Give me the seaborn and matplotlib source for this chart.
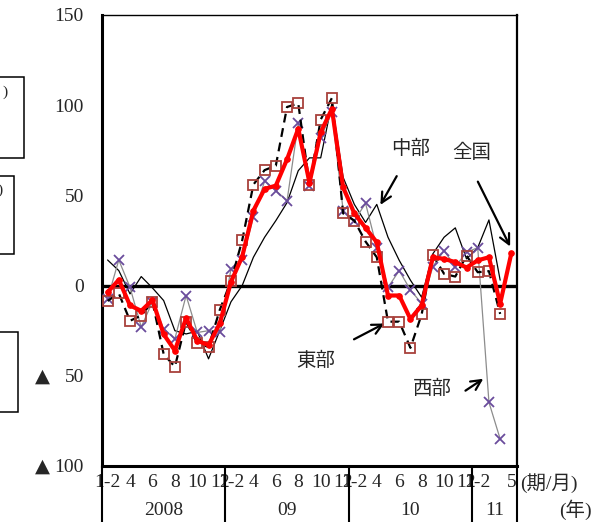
import numpy as np
import pandas as pd
import matplotlib
matplotlib.use('Agg')
import matplotlib.pyplot as plt
import matplotlib.transforms as mtransforms
from matplotlib.patches import Rectangle
import seaborn as sns

# periods: Jan-Feb combined, then monthly (2008/01 - 2011/05)
periods = (['1-2', '3', '4', '5', '6', '7', '8', '9', '10', '11', '12'] * 3
           + ['1-2', '3', '4', '5'])
shown = ['1-2', '4', '6', '8', '10', '12']
years = ['2008', '09', '10', '11']
year_len = [11, 11, 11, 4]

# 全国
national = [-3.7, 3.2, -11, -14, -8, -27, -36, -18, -30.5, -33, -21,
            2, 16, 41.6, 53.6, 55.4, 70, 87, 57, 85, 98,
            54.5, 40, 32, 24, -5.5, -5.5, -18.5, -11, 15.7, 14.8, 13,
            10, 14, 15.7, -10, 18]
# 東部
east = [-8.5, -4.3, -19.5, -16.6, -9, -38, -45, -20, -32, -34, -13.5,
        2.5, 25, 56, 64, 66.5, 99, 101, 56, 92, 104,
        40, 36, 24.4, 15.7, -20, -20, -34.5, -16, 17, 6.5, 5,
        16.6, 7.4, 8, -15.7]
# 中部
central = [14.2, 8.3, -4.6, 5, -1.3, -8.3, -25, -26.8, -25.3, -40.6, -25,
           -9, 0, 15.7, 26.8, 36, 46, 63.7, 70.8, 70.8, 101,
           60, 45, 35, 45, 26.8, 14, 3, -6.5, 17.6, 26.8, 32,
           14.8, 21, 36.4, 3]
# 西部
west = [-7.4, 14.2, -1, -23, -9, -24, -29.5, -5.5, -26, -25, -26,
        9.2, 14, 38, 58, 52.7, 47, 90, 55, 82, 96,
        41.6, 36, 45.6, 21, -1, 8.3, -2.4, -10, 10.5, 19.4, 10.5,
        18.5, 21, -64.7, -85]

pos = np.arange(len(periods))

sns.set_style('white')
plt.rcParams['font.family'] = ['Liberation Serif', 'Noto Sans CJK JP', 'DejaVu Sans']
plt.rcParams['font.size'] = 14

fig = plt.figure(figsize=(6.07, 5.22), dpi=100)
ax = fig.add_axes([0.168, 0.1073, 0.6837, 0.864])

df_c = pd.DataFrame({'pos': pos[:36], 'value': central})
df_w = pd.DataFrame({'pos': pos[:36], 'value': west})
df_e = pd.DataFrame({'pos': pos[:36], 'value': east})
df_n = pd.DataFrame({'pos': pos, 'value': national})

ax.axhline(0, color='black', lw=2.4, zorder=1)

sns.lineplot(data=df_c, x='pos', y='value', ax=ax, color='black', lw=0.9,
             errorbar=None, zorder=2)
sns.lineplot(data=df_w, x='pos', y='value', ax=ax, color='#8c8c8c', lw=0.9,
             marker='x', markersize=6.5, markeredgecolor='#6a4c9c',
             markeredgewidth=1.3, errorbar=None, zorder=3)
sns.lineplot(data=df_e, x='pos', y='value', ax=ax, color='black', lw=1.6,
             linestyle=(0, (4, 2.6)), marker='s', markersize=6.5,
             markerfacecolor='none', markeredgecolor='#a8413c',
             markeredgewidth=1.3, errorbar=None, zorder=4)
sns.lineplot(data=df_n, x='pos', y='value', ax=ax, color='red', lw=3,
             marker='o', markersize=4, markeredgecolor='red',
             errorbar=None, zorder=5)

ax.set_xlim(-0.5, len(periods) - 0.5)
ax.set_ylim(-100, 150)
ax.set_xlabel('')
ax.set_ylabel('')

# x tick labels (2011 shows only 1-2 and 5)
tick_text = []
for i, p in enumerate(periods):
    keep = p in (('1-2', '5') if i >= 33 else shown)
    tick_text.append(p if keep else '')
ax.set_xticks(pos)
ax.set_xticklabels(tick_text)

yt = [-100, -50, 0, 50, 100, 150]
ax.set_yticks(yt)
ax.set_yticklabels([str(abs(v)) for v in yt])
for v in yt:
    if v < 0:
        ax.text(-0.143, v, '▲', transform=mtransforms.blended_transform_factory(ax.transAxes, ax.transData),
                ha='center', va='center', fontsize=14, family='DejaVu Sans')

ax.tick_params(axis='y', direction='in', length=4, width=1, pad=13)
ax.tick_params(axis='x', length=0, pad=6)

for side, lw in [('left', 2.2), ('bottom', 2.2), ('top', 1.0), ('right', 1.6)]:
    ax.spines[side].set_visible(True)
    ax.spines[side].set_linewidth(lw)
    ax.spines[side].set_color('black')

# year rows below the axis
trans = mtransforms.blended_transform_factory(ax.transData, ax.transAxes)
start = 0
bounds = [-0.5]
for yr, n in zip(years, year_len):
    ax.text(start + n / 2 - 0.5, -0.098, yr, transform=trans, ha='center', va='center')
    start += n
    bounds.append(start - 0.5)
for b in bounds:
    ax.plot([b, b], [0, -0.2], transform=trans, color='black', lw=1.5, clip_on=False)

ax.text(1.008, -0.038, '(期/月)', transform=ax.transAxes, ha='left', va='center')
ax.text(1.181, -0.098, '(年)', transform=ax.transAxes, ha='right', va='center')

# labels and arrows
arrow = dict(arrowstyle='->', color='black', lw=1.6, mutation_scale=18)
ax.text(27.0, 76, '中部', ha='center', va='center')
ax.annotate('', xy=(24.2, 43.4), xytext=(25.9, 62), arrowprops=arrow)
ax.text(32.5, 73.7, '全国', ha='center', va='center')
ax.annotate('', xy=(36.0, 20.3), xytext=(32.9, 59), arrowprops=arrow)
ax.text(18.6, -41.6, '東部', ha='center', va='center')
ax.annotate('', xy=(24.9, -20.3), xytext=(21.75, -30.5), arrowprops=arrow)
ax.text(29.0, -57.3, '西部', ha='center', va='center')
ax.annotate('', xy=(33.7, -50.8), xytext=(31.7, -59.1), arrowprops=arrow)

# cut-off boxes at the left edge
for x1, y0, y1 in [(24, 77, 158), (14, 176, 254), (18, 332, 412)]:
    fig.add_artist(Rectangle((-0.05, 1 - y1 / 522), 0.05 + x1 / 607, (y1 - y0) / 522,
                             transform=fig.transFigure, fill=False, ec='black', lw=1.1))
fig.text(0.004, 1 - 92 / 522, ')', ha='left', va='center', fontsize=11)
fig.text(-0.004, 1 - 190 / 522, ')', ha='left', va='center', fontsize=11)

fig.savefig('out.png', dpi=100)
